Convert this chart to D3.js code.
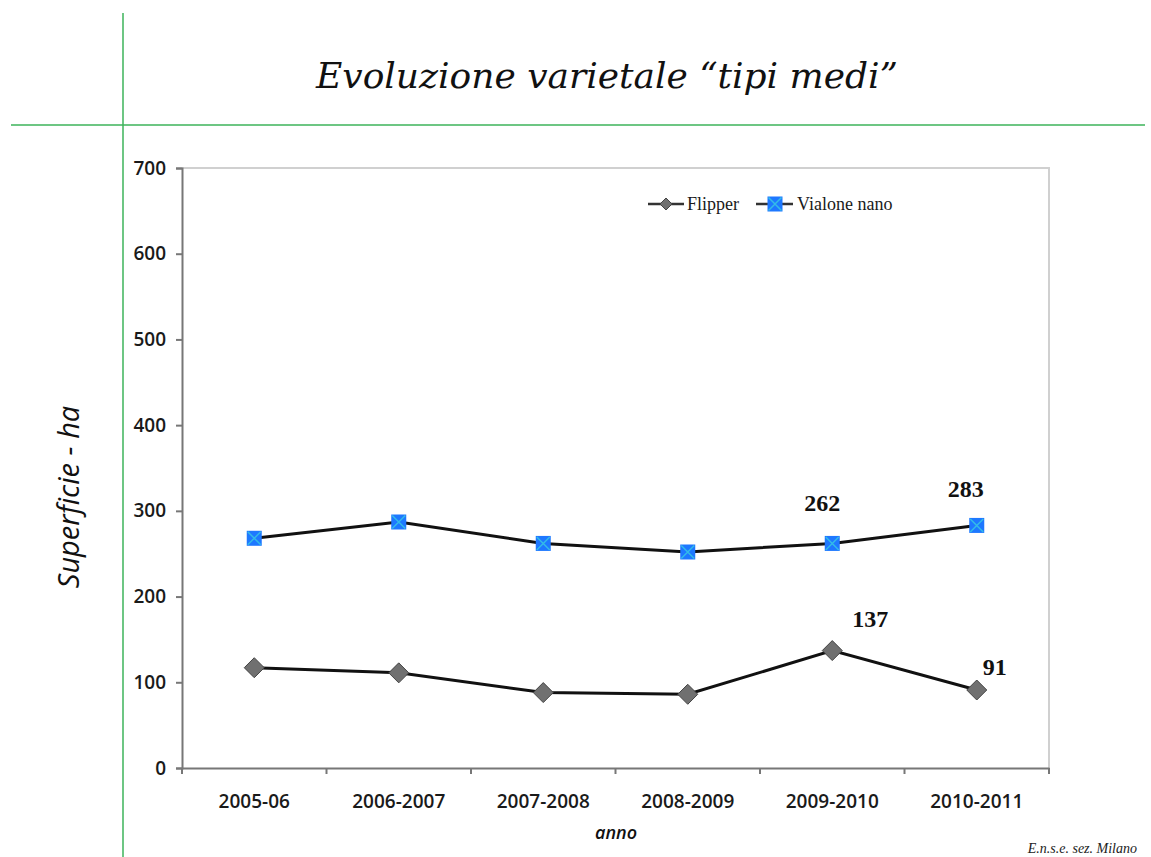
<!DOCTYPE html>
<html><head><meta charset="utf-8">
<script src="https://cdn.jsdelivr.net/npm/d3@7"></script>
<style>body{margin:0;background:#fff}svg{display:block}</style>
</head><body>
<svg id="c" width="1151" height="857"></svg>
<script>
const categories = ["2005-06","2006-2007","2007-2008","2008-2009","2009-2010","2010-2011"];
const flipper = [117, 111, 88, 86, 137, 91];
const vialone = [268, 287, 262, 252, 262, 283];
const yTicks = [0,100,200,300,400,500,600,700];
const labelsFlipper = [null,null,null,null,137,91];
const labelsVialone = [null,null,null,null,262,283];

const svg = d3.select("#c");
const L = 182, R = 1049, T = 168, B = 768;

// green frame lines
svg.append("line").attr("x1",123).attr("x2",123).attr("y1",13).attr("y2",857).attr("stroke","#3cb35a").attr("stroke-width",1.5);
svg.append("line").attr("x1",11).attr("x2",1145).attr("y1",125).attr("y2",125).attr("stroke","#3cb35a").attr("stroke-width",1.5);

svg.append("text").attr("x",607).attr("y",88).attr("text-anchor","middle")
  .attr("font-family","'DejaVu Serif', serif").attr("font-style","italic").attr("font-size",36)
  .attr("fill","#111").text("Evoluzione varietale “tipi medi”");

const x = d3.scaleBand().domain(categories).range([L, R]);
const y = d3.scaleLinear().domain([0,700]).range([B, T]);

// plot border (light)
svg.append("path").attr("d",`M${L},${T}H${R}V${B}`).attr("fill","none").attr("stroke","#d0d0d0").attr("stroke-width",2);

const yAxis = svg.append("g").attr("transform",`translate(${L},0)`)
  .call(d3.axisLeft(y).tickValues(yTicks).tickSize(6).tickPadding(10));
const xAxis = svg.append("g").attr("transform",`translate(0,${B})`)
  .call(d3.axisBottom(x).tickSize(0).tickPadding(27));
[yAxis,xAxis].forEach(g=>{
  g.select(".domain").attr("stroke","#777").attr("stroke-width",2);
  g.selectAll("text").attr("font-family","'Open Sans', sans-serif").attr("font-size",19).attr("fill","#1a1a1a").attr("font-weight",600);
  g.selectAll(".tick line").attr("stroke","#777").attr("stroke-width",2);
});
// x tick marks at band boundaries
const bounds = categories.map(c=>x(c)).concat([R]);
svg.append("g").selectAll("line").data(bounds).join("line")
  .attr("x1",d=>d).attr("x2",d=>d).attr("y1",B).attr("y2",B+6).attr("stroke","#777").attr("stroke-width",2);

const cx = c => x(c) + x.bandwidth()/2;
const line = d3.line().x((d,i)=>cx(categories[i])).y(d=>y(d));

svg.append("path").datum(vialone).attr("d",line).attr("fill","none").attr("stroke","#111").attr("stroke-width",3);
svg.append("path").datum(flipper).attr("d",line).attr("fill","none").attr("stroke","#111").attr("stroke-width",3);

// markers
function diamond(g, px, py, s){
  g.append("path").attr("d",`M${px},${py-s}L${px+s},${py}L${px},${py+s}L${px-s},${py}Z`)
   .attr("fill","#707070").attr("stroke","#444").attr("stroke-width",1);
}
function squareX(g, px, py, s){
  g.append("rect").attr("x",px-s).attr("y",py-s).attr("width",2*s).attr("height",2*s).attr("fill","#1e78ff");
  g.append("path").attr("d",`M${px-s+1},${py-s+1}L${px+s-1},${py+s-1}M${px+s-1},${py-s+1}L${px-s+1},${py+s-1}`)
   .attr("stroke","#33bbe8").attr("stroke-width",1.5);
}
const mk = svg.append("g");
flipper.forEach((v,i)=>diamond(mk, cx(categories[i]), y(v), 10));
vialone.forEach((v,i)=>squareX(mk, cx(categories[i]), y(v), 7.5));

// data labels
const offF = [null,null,null,null,[38,-24],[18,-15]];
const offV = [null,null,null,null,[-10,-32],[-11,-28]];
const lbl = svg.append("g").attr("font-family","'Liberation Serif', serif").attr("font-weight","bold").attr("font-size",24).attr("fill","#111").attr("text-anchor","middle");
labelsFlipper.forEach((v,i)=>{ if(v!=null) lbl.append("text").attr("x",cx(categories[i])+offF[i][0]).attr("y",y(flipper[i])+offF[i][1]).text(v); });
labelsVialone.forEach((v,i)=>{ if(v!=null) lbl.append("text").attr("x",cx(categories[i])+offV[i][0]).attr("y",y(vialone[i])+offV[i][1]).text(v); });

// legend
const lg = svg.append("g").attr("font-family","'Liberation Serif', serif").attr("font-size",18).attr("fill","#1a1a1a");
lg.append("line").attr("x1",648).attr("x2",684).attr("y1",204).attr("y2",204).attr("stroke","#333").attr("stroke-width",2.5);
diamond(lg, 666, 204, 6);
lg.append("text").attr("x",687).attr("y",210).text("Flipper");
lg.append("line").attr("x1",756).attr("x2",793).attr("y1",204).attr("y2",204).attr("stroke","#333").attr("stroke-width",2.5);
squareX(lg, 775, 204, 7.5);
lg.append("text").attr("x",797).attr("y",210).text("Vialone nano");

// axis titles
svg.append("text").attr("transform","translate(79,497) rotate(-90)").attr("text-anchor","middle")
  .attr("font-family","'Open Sans', sans-serif").attr("font-style","italic").attr("font-size",29).attr("fill","#111").text("Superficie - ha");
svg.append("text").attr("x",616).attr("y",839).attr("text-anchor","middle")
  .attr("font-family","'Open Sans', sans-serif").attr("font-style","italic").attr("font-weight",600).attr("font-size",18).attr("fill","#111").text("anno");
svg.append("text").attr("x",1137).attr("y",853).attr("text-anchor","end")
  .attr("font-family","'Liberation Serif', serif").attr("font-style","italic").attr("font-size",14).attr("fill","#222").text("E.n.s.e. sez. Milano");
</script>
</body></html>
